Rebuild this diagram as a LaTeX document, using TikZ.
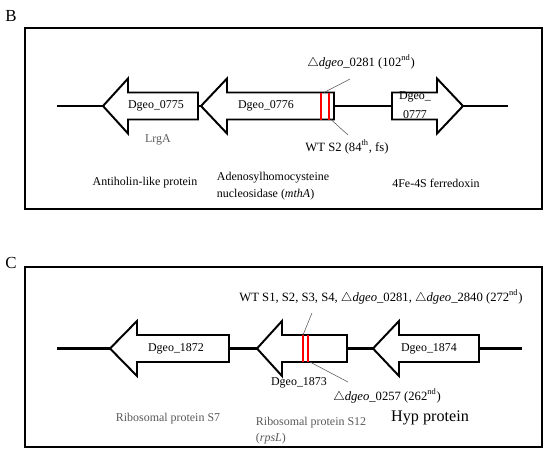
\documentclass[tikz,border=0pt]{standalone}
\usepackage{fontspec}
\setmainfont{Liberation Serif}
\usetikzlibrary{positioning}
\definecolor{mute}{RGB}{89,89,89}
\definecolor{snp}{RGB}{255,0,0}
% left pointing gene: tip, head back, tail, axis
\newcommand{\lgene}[4]{\filldraw[gene] (#1,#4) -- (#2,#4-27.5) -- (#2,#4-13.5) -- (#3,#4-13.5)
  -- (#3,#4+13.5) -- (#2,#4+13.5) -- (#2,#4+27.5) -- cycle;}

\begin{document}
\begin{tikzpicture}[x=.25mm,y=-.25mm,font=\fontsize{8.5}{12}\selectfont,
  gene/.style={draw=black,fill=white,line width=1.4pt,line join=miter},
  axis/.style={line width=1.9pt},
  frame/.style={line width=1.6pt},
  hit/.style={draw=snp,line width=1.3pt},
  lead/.style={draw=mute,line width=.4pt},
  note/.style={font=\fontsize{9}{11}\selectfont},
  grey/.style={text=mute}]
\useasboundingbox (0,0) rectangle (550,453);

% panel B
\node[font=\fontsize{12}{14}\selectfont] (tagB) at (11,16) {B};
\draw[frame] (25,28) rectangle (542,209);
\coordinate (b0) at (57,106); \coordinate (b1) at (508,106);
\draw[axis] (b0) -- (b1);
\lgene{103}{128}{198}{106}
\lgene{201}{227}{334}{106}
\filldraw[gene] (463,106) -- (437,78.5) -- (437,92.5) -- (392,92.5) -- (392,119.5) -- (437,119.5) -- (437,133.5) -- cycle;
\draw[hit] (321,92.5) -- (321,119.5); \draw[hit] (329,92.5) -- (329,119.5);
\node (g775) at (156,106) {Dgeo\_0775};
\node (g776) at (266,106) {Dgeo\_0776};
\node[align=center,font=\fontsize{8.5}{14}\selectfont] (g777) at (415,105) {Dgeo\_\\0777};
\node[grey] (lrgA) at (158,140) {LrgA};
\node[note] (d0281) at (361,62) {$\triangle$\textit{dgeo}\_0281 (102\textsuperscript{nd})};
\node[note] (ws2) at (347,147) {WT S2 (84\textsuperscript{th}, fs)};
\coordinate (m1) at (324,92.5); \coordinate (m1e) at (350,79);
\coordinate (m2) at (331,119.5); \coordinate (m2e) at (348,135);
\draw[lead] (m1) -- (m1e); \draw[lead] (m2) -- (m2e);
\node (anti) at (145,183) {Antiholin-like protein};
\node[align=left,anchor=north west] (mth) at (212,167) {Adenosylhomocysteine\\nucleosidase (\textit{mthA})};
\node (fdx) at (436,183) {4Fe-4S ferredoxin};

% panel C
\node[font=\fontsize{12}{14}\selectfont] (tagC) at (11,263) {C};
\draw[frame] (25,267) rectangle (542,447);
\coordinate (c0) at (57,348.5); \coordinate (c1) at (522,348.5);
\draw[axis] (c0) -- (c1);
\lgene{110}{137}{229}{348.5}
\lgene{257}{282}{347}{348.5}
\lgene{373}{399}{479}{348.5}
\draw[hit] (303,335) -- (303,362); \draw[hit] (308,335) -- (308,362);
\node (g1872) at (176,348.5) {Dgeo\_1872};
\node (g1873) at (299,383) {Dgeo\_1873};
\node (g1874) at (429,348.5) {Dgeo\_1874};
\node[note] (wtall) at (381,297) {WT S1, S2, S3, S4, $\triangle$\textit{dgeo}\_0281, $\triangle$\textit{dgeo}\_2840 (272\textsuperscript{nd})};
\node[note] (d0257) at (387,396) {$\triangle$\textit{dgeo}\_0257 (262\textsuperscript{nd})};
\coordinate (m3) at (303,335); \coordinate (m3e) at (312,313);
\coordinate (m4) at (310,362); \coordinate (m4e) at (348,382);
\draw[lead] (m3) -- (m3e); \draw[lead] (m4) -- (m4e);
\node[grey] (s7) at (168,419) {Ribosomal protein S7};
\node[grey,align=left,anchor=north west,font=\fontsize{8.5}{11.5}\selectfont] (s12) at (251,412) {Ribosomal protein S12\\(\textit{rpsL})};
\node[font=\fontsize{11.5}{13}\selectfont] (hyp) at (430,418) {Hyp protein};
\end{tikzpicture}
\end{document}
